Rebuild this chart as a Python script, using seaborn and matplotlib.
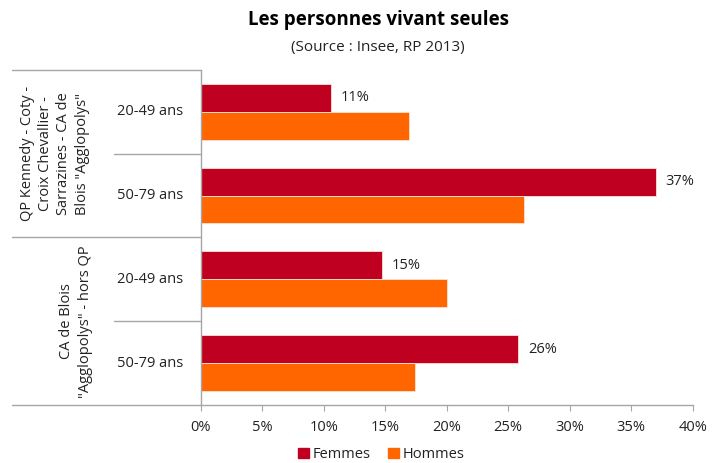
import pandas as pd
import seaborn as sns
from matplotlib import pyplot as plt

# values (%)
zones = ['QP Kennedy - Coty -\nCroix Chevallier -\nSarrazines - CA de\nBlois "Agglopolys"',
         'CA de Blois\n"Agglopolys" - hors QP']
ages = ['20-49 ans', '50-79 ans']
femmes = [10.6, 37.0, 14.7, 25.8]
hommes = [16.9, 26.3, 20.0, 17.4]
femmes_labels = ['11%', '37%', '15%', '26%']
x_ticks = [0, 5, 10, 15, 20, 25, 30, 35, 40]

rows = [f'{z}|{a}' for z in zones for a in ages]
df = pd.DataFrame({
    'cat': rows * 2,
    'sexe': ['Femmes'] * 4 + ['Hommes'] * 4,
    'val': femmes + hommes,
})

sns.set_style('white')
plt.rcParams['font.family'] = ['Open Sans', 'DejaVu Sans']
txt = '#222222'
grey = '#A6A6A6'

fig, ax = plt.subplots(figsize=(7.2, 4.63), dpi=100)
fig.subplots_adjust(left=0.279, right=0.962, top=0.849, bottom=0.1253)

sns.barplot(data=df, x='val', y='cat', hue='sexe', orient='h', ax=ax,
            palette={'Femmes': '#C00020', 'Hommes': '#FF6600'},
            saturation=1, width=0.665, gap=0, edgecolor='#FFE0D6',
            linewidth=0.6, legend=False)

ax.bar_label(ax.containers[0], labels=femmes_labels, padding=7,
             fontsize=10.5, color=txt)

ax.set_xlim(0, 40)
ax.set_ylim(3.5, -0.5)
ax.set_xticks(x_ticks)
ax.set_xticklabels([f'{t}%' for t in x_ticks])
ax.tick_params(axis='x', direction='out', length=4, color=grey,
               labelsize=10.5, labelcolor=txt, pad=7, bottom=True)
ax.tick_params(axis='y', length=0, left=False)
ax.set_yticklabels([])
ax.set_xlabel('')
ax.set_ylabel('')
for s in ['top', 'right']:
    ax.spines[s].set_visible(False)
for s in ['left', 'bottom']:
    ax.spines[s].set_color(grey)
    ax.spines[s].set_linewidth(1)

# hierarchical category axis
tr = ax.get_yaxis_transform()
n = len(rows)
for i in range(0, n + 1, len(ages)):
    ax.plot([-0.3844, 0], [i - 0.5, i - 0.5], transform=tr, color=grey,
            lw=1, clip_on=False)
for i in range(1, n, len(ages)):
    ax.plot([-0.1769, 0], [i - 0.5, i - 0.5], transform=tr, color=grey,
            lw=1, clip_on=False)
for i, r in enumerate(rows):
    ax.text(-0.104, i, r.split('|')[1], transform=tr, ha='center',
            va='center', fontsize=10.5, color=txt)
zone_x = [-0.297, -0.254]
for j, z in enumerate(zones):
    c = j * len(ages) + (len(ages) - 1) / 2
    ax.text(zone_x[j], c, z, transform=tr, rotation=90, ha='center',
            va='center', multialignment='center', fontsize=10.5,
            color=txt, linespacing=1.3)

fig.text(0.525, 1 - 20 / 463, 'Les personnes vivant seules', ha='center',
         va='center', fontsize=13.5, fontweight='bold', color='black')
fig.text(0.525, 1 - 47 / 463, '(Source : Insee, RP 2013)', ha='center',
         va='center', fontsize=11, color=txt)

handles = [plt.Rectangle((0, 0), 1, 1, color='#C00020'),
           plt.Rectangle((0, 0), 1, 1, color='#FF6600')]
fig.legend(handles, ['Femmes', 'Hommes'], loc='center',
           bbox_to_anchor=(0.53, 0.018), ncol=2, frameon=False,
           handlelength=0.7, handleheight=0.7, columnspacing=1.2,
           handletextpad=0.3, fontsize=10.5, labelcolor=txt)

fig.savefig('out.png', dpi=100)
